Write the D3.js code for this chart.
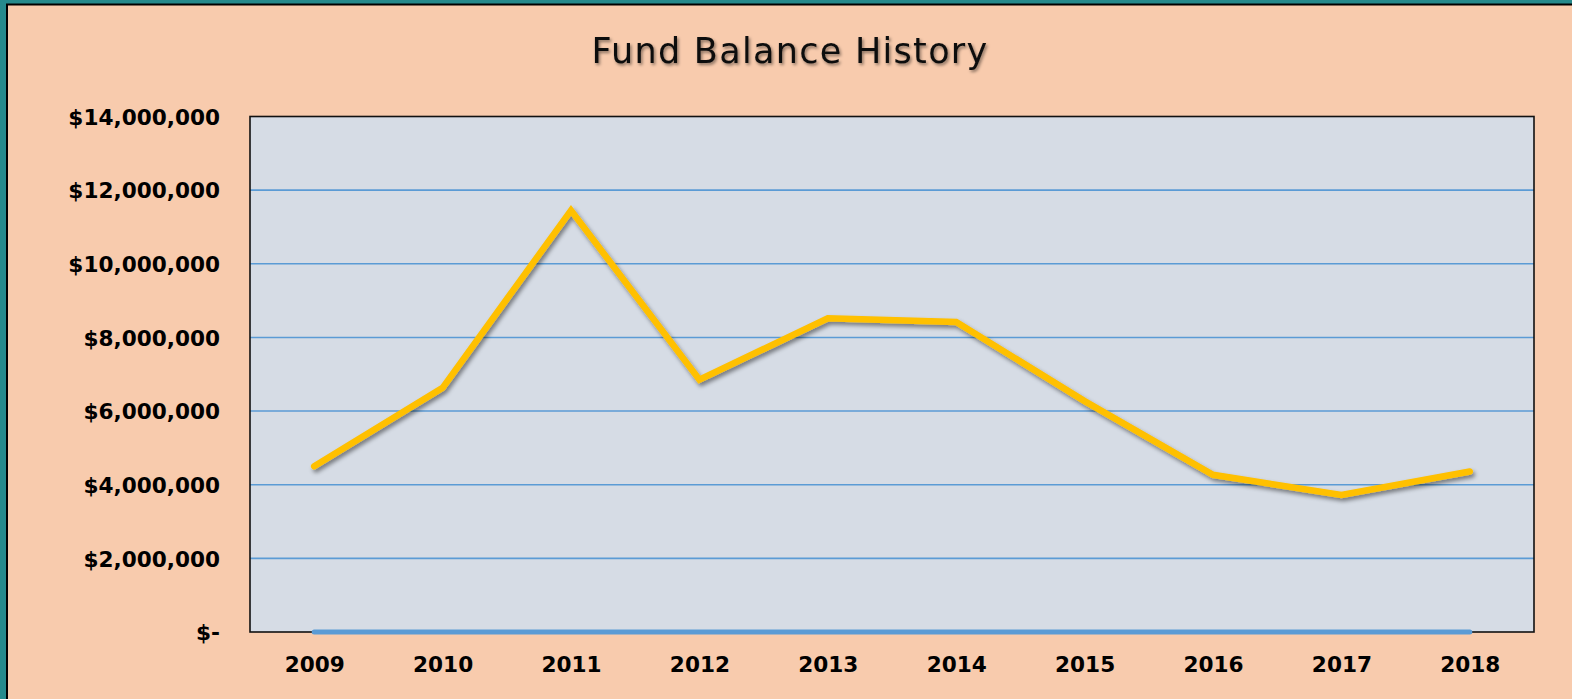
<!DOCTYPE html>
<html>
<head>
<meta charset="utf-8">
<script src="https://cdn.jsdelivr.net/npm/d3@7"></script>
<style>
  html, body { margin: 0; padding: 0; background: #268A8C; }
  svg { display: block; }
</style>
</head>
<body>
<svg id="chart" width="1572" height="699"></svg>
<script>
// Fiscal years on the category axis
const years = ["2009", "2010", "2011", "2012", "2013", "2014", "2015", "2016", "2017", "2018"];
// Year-end fund balance, dollars
const fundBalance = [4500000, 6630000, 11450000, 6850000, 8520000, 8420000, 6270000, 4270000, 3720000, 4360000];
// Secondary series that sits on the baseline
const baselineSeries = [0, 0, 0, 0, 0, 0, 0, 0, 0, 0];
// Value axis ticks
const yTicks = [0, 2000000, 4000000, 6000000, 8000000, 10000000, 12000000, 14000000];

const W = 1572, H = 699;
const plot = { left: 250, top: 116.5, right: 1534, bottom: 632 };

const svg = d3.select("#chart");
const defs = svg.append("defs");

const shadow = defs.append("filter").attr("id", "lineShadow")
  .attr("x", "-5%").attr("y", "-10%").attr("width", "110%").attr("height", "130%");
shadow.append("feDropShadow").attr("dx", 2).attr("dy", 3).attr("stdDeviation", 2.2)
  .attr("flood-color", "#000").attr("flood-opacity", 0.45);

const titleShadow = defs.append("filter").attr("id", "titleShadow")
  .attr("x", "-5%").attr("y", "-20%").attr("width", "110%").attr("height", "150%");
titleShadow.append("feDropShadow").attr("dx", 1.5).attr("dy", 2).attr("stdDeviation", 1.5)
  .attr("flood-color", "#000").attr("flood-opacity", 0.45);

// Chart frame
svg.append("rect").attr("x", 0).attr("y", 0).attr("width", W).attr("height", H).attr("fill", "#268A8C");
svg.append("rect").attr("x", 7).attr("y", 4.5).attr("width", W + 10).attr("height", H + 10)
  .attr("fill", "#F8CBAD").attr("stroke", "#000").attr("stroke-width", 2);

// Title
svg.append("text")
  .attr("x", 790).attr("y", 63)
  .attr("text-anchor", "middle")
  .attr("font-family", "'DejaVu Sans', Verdana, sans-serif")
  .attr("font-size", 35)
  .attr("letter-spacing", 1.3)
  .attr("fill", "#111")
  .attr("filter", "url(#titleShadow)")
  .text("Fund Balance History");

const x = d3.scalePoint().domain(years).range([plot.left, plot.right]).padding(0.5);
const y = d3.scaleLinear().domain([0, 14000000]).range([plot.bottom, plot.top]);

// Plot area
svg.append("rect")
  .attr("x", plot.left).attr("y", plot.top)
  .attr("width", plot.right - plot.left).attr("height", plot.bottom - plot.top)
  .attr("fill", "#D6DCE5");

// Gridlines
svg.append("g").selectAll("line")
  .data(yTicks.filter(d => d > 0 && d < 14000000))
  .join("line")
  .attr("x1", plot.left).attr("x2", plot.right)
  .attr("y1", d => y(d)).attr("y2", d => y(d))
  .attr("stroke", "#5B9BD5").attr("stroke-width", 1.6);

// Plot area border
svg.append("rect")
  .attr("x", plot.left).attr("y", plot.top)
  .attr("width", plot.right - plot.left).attr("height", plot.bottom - plot.top)
  .attr("fill", "none").attr("stroke", "#111").attr("stroke-width", 1.6);

const fmt = d => d === 0 ? "$-" : "$" + d3.format(",")(d);

// Value axis
const yAxis = svg.append("g")
  .attr("transform", `translate(${plot.left},0)`)
  .call(d3.axisLeft(y).tickValues(yTicks).tickFormat(fmt).tickSize(0).tickPadding(30));
yAxis.select(".domain").remove();
yAxis.selectAll("text")
  .attr("font-family", "'DejaVu Sans', Verdana, sans-serif")
  .attr("font-weight", "bold")
  .attr("font-size", 21.6)
  .attr("fill", "#000")
  .attr("dy", "0.36em");

// Category axis
const xAxis = svg.append("g")
  .attr("transform", `translate(0,${plot.bottom})`)
  .call(d3.axisBottom(x).tickSize(0).tickPadding(25));
xAxis.select(".domain").remove();
xAxis.selectAll("text")
  .attr("font-family", "'DejaVu Sans', Verdana, sans-serif")
  .attr("font-weight", "bold")
  .attr("font-size", 21.6)
  .attr("fill", "#000");

const line = d3.line().x((d, i) => x(years[i])).y(d => y(d));

// Baseline series
svg.append("path")
  .datum(baselineSeries)
  .attr("d", line)
  .attr("fill", "none")
  .attr("stroke", "#5B9BD5")
  .attr("stroke-width", 5)
  .attr("stroke-linecap", "round");

// Fund balance line
svg.append("path")
  .datum(fundBalance)
  .attr("d", line)
  .attr("fill", "none")
  .attr("stroke", "#FFC000")
  .attr("stroke-width", 6.5)
  .attr("stroke-linejoin", "miter")
  .attr("stroke-linecap", "round")
  .attr("filter", "url(#lineShadow)");
</script>
</body>
</html>
